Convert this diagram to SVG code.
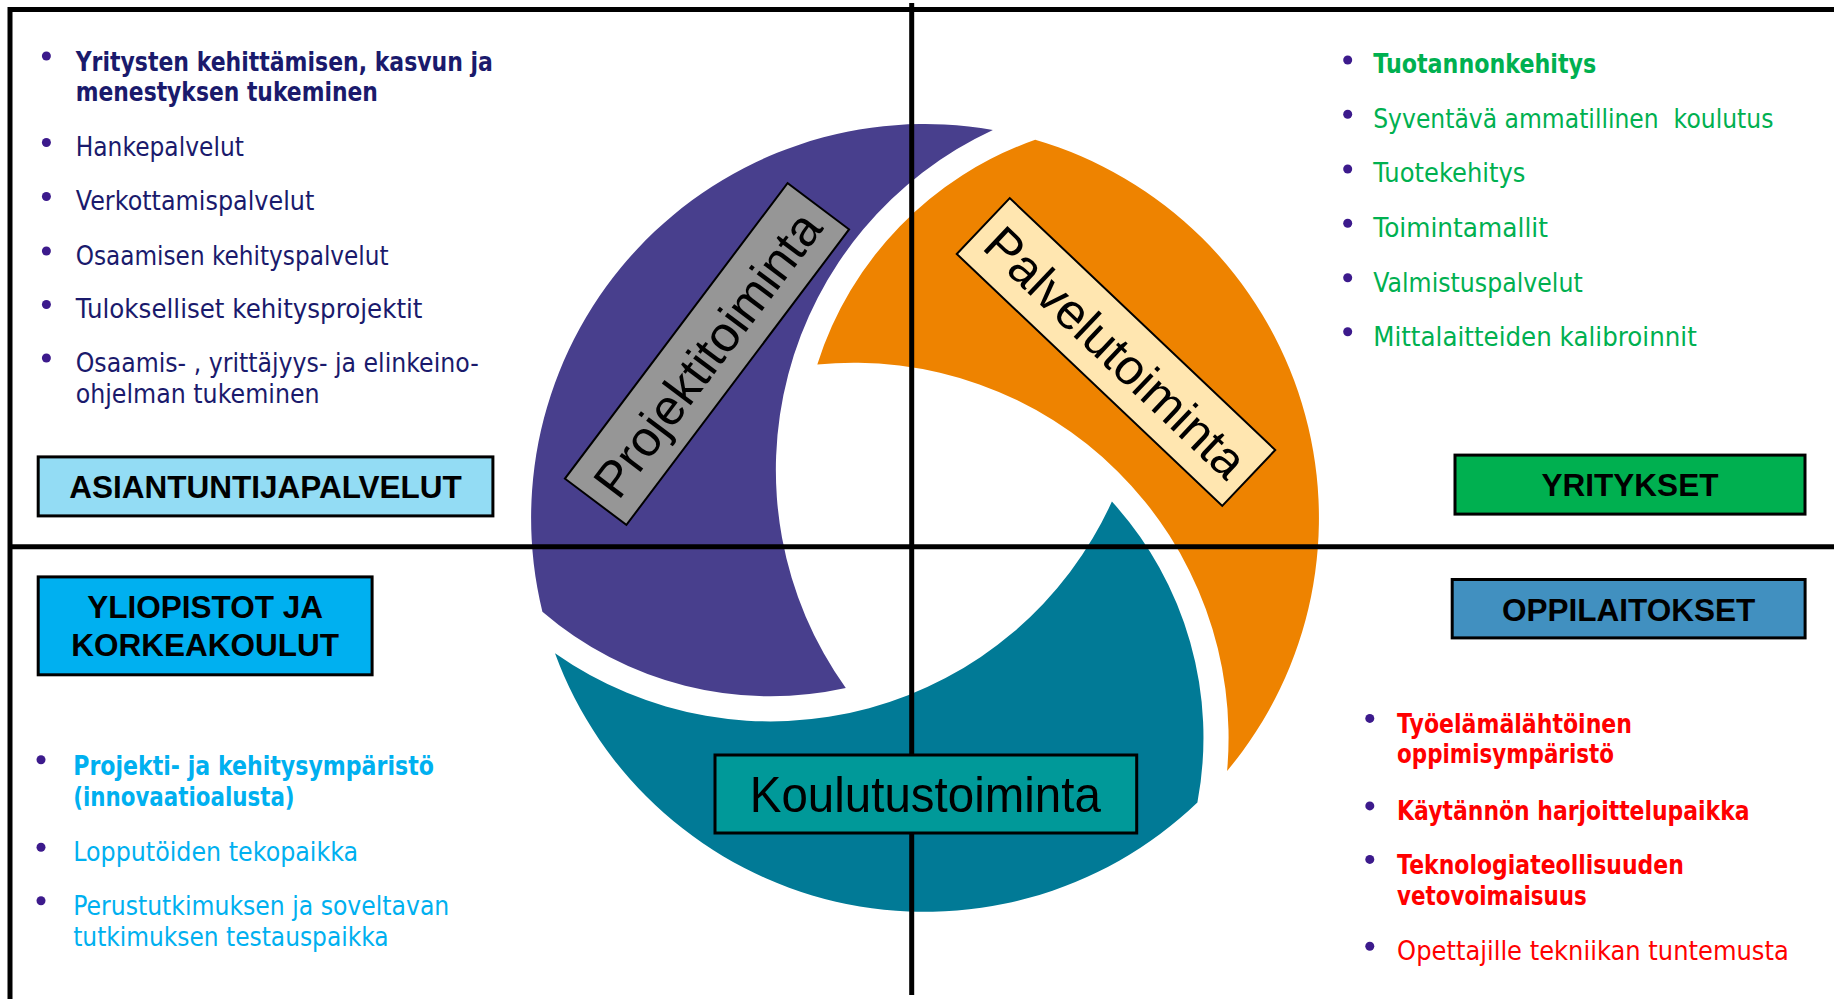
<svg xmlns="http://www.w3.org/2000/svg" width="1834" height="999" viewBox="0 0 1834 999">
<style>
.t{font-family:"DejaVu Sans","Liberation Sans",sans-serif;font-size:26px}
.b{font-weight:bold}
.navy{fill:#1A1A6C}
.green{fill:#00B050}
.cyan{fill:#00B0F0}
.red{fill:#FF0000}
.dot{fill:#3C1A8C}
.lbl{font-family:"Liberation Sans",Arial,sans-serif;font-weight:bold;font-size:31.5px;text-anchor:middle;fill:#000}
.big{font-family:"Liberation Sans",Arial,sans-serif;font-size:50px;text-anchor:middle;fill:#000}
.box{stroke:#000;stroke-width:3}
.rbox{stroke:#000;stroke-width:2}
.line{stroke:#000;stroke-width:5;fill:none}
</style>
<rect width="1834" height="999" fill="#FFFFFF"/>

<g id="swirl">
<path id="piece-projekti" fill="#483F8D" d="M 992.9 129.9 A 394 394 0 0 0 542.4 611.7 A 350 350 0 0 0 845.8 688.1 A 375 375 0 0 1 992.9 129.9 Z"/>
<path id="piece-palvelu" fill="#EE8300" d="M 1227.1 770.9 A 394 394 0 0 0 1035.2 139.8 A 350 350 0 0 0 817.3 364.4 A 375 375 0 0 1 1227.1 770.9 Z"/>
<path id="piece-koulutus" fill="#017A96" d="M 555.0 653.3 A 394 394 0 0 0 1197.4 802.5 A 350 350 0 0 0 1111.9 501.6 A 375 375 0 0 1 555.0 653.3 Z"/>
</g>

<g id="connectors">
<line class="line" x1="10" y1="9.5" x2="1834" y2="9.5"/>
<line class="line" x1="10" y1="7" x2="10" y2="999"/>
<line class="line" x1="911.7" y1="3" x2="911.7" y2="995"/>
<line class="line" x1="8" y1="546.8" x2="1834" y2="546.8"/>
</g>

<g id="node-projektitoiminta" transform="translate(707 354) rotate(-53)">
<rect class="rbox" x="-185" y="-38.5" width="370" height="77" fill="#969696"/>
<text class="big" x="0" y="18">Projektitoiminta</text>
</g>

<g id="node-palvelutoiminta" transform="translate(1116 352) rotate(43.5)">
<rect class="rbox" x="-183" y="-38.5" width="366" height="77" fill="#FFE6B0"/>
<text class="big" x="0" y="18">Palvelutoiminta</text>
</g>

<g id="node-koulutustoiminta">
<rect class="box" x="715" y="755" width="421.7" height="78" fill="#009999"/>
<text class="big" x="925.3" y="811.7" font-size="49" textLength="351" lengthAdjust="spacingAndGlyphs">Koulutustoiminta</text>
</g>

<g id="node-asiantuntijapalvelut">
<rect class="box" x="38.2" y="456.9" width="454.7" height="59" fill="#93DCF4"/>
<text class="lbl" x="265.5" y="498.3">ASIANTUNTIJAPALVELUT</text>
</g>

<g id="node-yliopistot">
<rect class="box" x="38.2" y="576.9" width="333.9" height="97.9" fill="#00B0F0"/>
<text class="lbl" x="205.2" y="617.6">YLIOPISTOT JA</text>
<text class="lbl" x="205.2" y="656.3">KORKEAKOULUT</text>
</g>

<g id="node-yritykset">
<rect class="box" x="1455" y="455.1" width="350" height="59" fill="#00B050"/>
<text class="lbl" x="1630" y="495.7">YRITYKSET</text>
</g>

<g id="node-oppilaitokset">
<rect class="box" x="1452.2" y="579.5" width="352.9" height="58.4" fill="#4190C0"/>
<text class="lbl" x="1628.7" y="620.5">OPPILAITOKSET</text>
</g>

<g id="list-asiantuntijapalvelut">
<circle class="dot" cx="46.4" cy="56" r="4.5"/>
<circle class="dot" cx="46.4" cy="142.5" r="4.5"/>
<circle class="dot" cx="46.4" cy="196.5" r="4.5"/>
<circle class="dot" cx="46.4" cy="251" r="4.5"/>
<circle class="dot" cx="46.4" cy="304.5" r="4.5"/>
<circle class="dot" cx="46.4" cy="358" r="4.5"/>
<text class="t b navy" x="75.7" y="70.7" textLength="417.2" lengthAdjust="spacingAndGlyphs">Yritysten kehittämisen, kasvun ja</text>
<text class="t b navy" x="75.7" y="100.7" textLength="302.2" lengthAdjust="spacingAndGlyphs">menestyksen tukeminen</text>
<text class="t navy" x="75.7" y="156" textLength="168.2" lengthAdjust="spacingAndGlyphs">Hankepalvelut</text>
<text class="t navy" x="75.7" y="210" textLength="238.6" lengthAdjust="spacingAndGlyphs">Verkottamispalvelut</text>
<text class="t navy" x="75.7" y="265" textLength="312.9" lengthAdjust="spacingAndGlyphs">Osaamisen kehityspalvelut</text>
<text class="t navy" x="75.7" y="318.3" textLength="346.8" lengthAdjust="spacingAndGlyphs">Tulokselliset kehitysprojektit</text>
<text class="t navy" x="75.7" y="371.7" textLength="403" lengthAdjust="spacingAndGlyphs">Osaamis- , yrittäjyys- ja elinkeino-</text>
<text class="t navy" x="75.7" y="403.3" textLength="243.9" lengthAdjust="spacingAndGlyphs">ohjelman tukeminen</text>
</g>

<g id="list-yritykset">
<circle class="dot" cx="1347.7" cy="60" r="4.5"/>
<circle class="dot" cx="1347.7" cy="114.3" r="4.5"/>
<circle class="dot" cx="1347.7" cy="169" r="4.5"/>
<circle class="dot" cx="1347.7" cy="223.3" r="4.5"/>
<circle class="dot" cx="1347.7" cy="277.7" r="4.5"/>
<circle class="dot" cx="1347.7" cy="331.7" r="4.5"/>
<text class="t b green" x="1373.2" y="73.3" textLength="223.1" lengthAdjust="spacingAndGlyphs">Tuotannonkehitys</text>
<text class="t green" x="1373.2" y="127.7" textLength="400.2" lengthAdjust="spacingAndGlyphs" xml:space="preserve">Syventävä ammatillinen  koulutus</text>
<text class="t green" x="1373.2" y="182.3" textLength="152.3" lengthAdjust="spacingAndGlyphs">Tuotekehitys</text>
<text class="t green" x="1373.2" y="236.7" textLength="174.8" lengthAdjust="spacingAndGlyphs">Toimintamallit</text>
<text class="t green" x="1373.2" y="291.7" textLength="209.5" lengthAdjust="spacingAndGlyphs">Valmistuspalvelut</text>
<text class="t green" x="1373.2" y="345.7" textLength="323.6" lengthAdjust="spacingAndGlyphs">Mittalaitteiden kalibroinnit</text>
</g>

<g id="list-yliopistot">
<circle class="dot" cx="41" cy="759.7" r="4.5"/>
<circle class="dot" cx="41" cy="847.3" r="4.5"/>
<circle class="dot" cx="41" cy="900.8" r="4.5"/>
<text class="t b cyan" x="73.2" y="774.5" textLength="360.7" lengthAdjust="spacingAndGlyphs">Projekti- ja kehitysympäristö</text>
<text class="t b cyan" x="73.2" y="805.9" textLength="221.4" lengthAdjust="spacingAndGlyphs">(innovaatioalusta)</text>
<text class="t cyan" x="73.2" y="861.3" textLength="285" lengthAdjust="spacingAndGlyphs">Lopputöiden tekopaikka</text>
<text class="t cyan" x="73.2" y="914.8" textLength="376.1" lengthAdjust="spacingAndGlyphs">Perustutkimuksen ja soveltavan</text>
<text class="t cyan" x="73.2" y="946.2" textLength="315.4" lengthAdjust="spacingAndGlyphs">tutkimuksen testauspaikka</text>
</g>

<g id="list-oppilaitokset">
<circle class="dot" cx="1369.8" cy="718.4" r="4.5"/>
<circle class="dot" cx="1369.8" cy="805.9" r="4.5"/>
<circle class="dot" cx="1369.8" cy="859.4" r="4.5"/>
<circle class="dot" cx="1369.8" cy="946.2" r="4.5"/>
<text class="t b red" x="1397.1" y="733.1" textLength="234.9" lengthAdjust="spacingAndGlyphs">Työelämälähtöinen</text>
<text class="t b red" x="1397.1" y="763.4" textLength="216.9" lengthAdjust="spacingAndGlyphs">oppimisympäristö</text>
<text class="t b red" x="1397.1" y="819.6" textLength="352.5" lengthAdjust="spacingAndGlyphs">Käytännön harjoittelupaikka</text>
<text class="t b red" x="1397.1" y="873.5" textLength="286.8" lengthAdjust="spacingAndGlyphs">Teknologiateollisuuden</text>
<text class="t b red" x="1397.1" y="904.5" textLength="189.7" lengthAdjust="spacingAndGlyphs">vetovoimaisuus</text>
<text class="t red" x="1397.1" y="959.9" textLength="391.7" lengthAdjust="spacingAndGlyphs">Opettajille tekniikan tuntemusta</text>
</g>
</svg>
